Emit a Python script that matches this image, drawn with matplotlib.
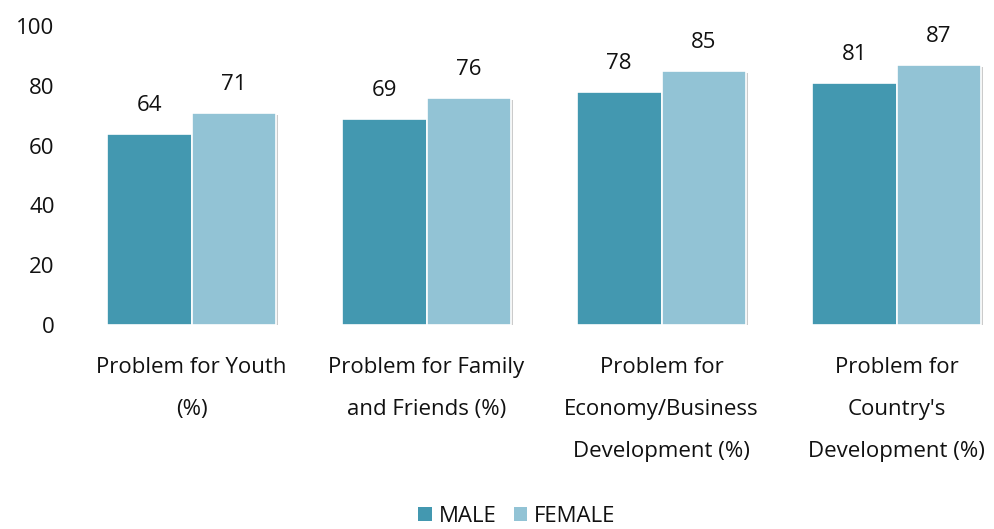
import matplotlib.pyplot as plt
import matplotlib.patheffects as pe
from matplotlib.patches import Patch
import numpy as np

plt.rcParams['font.family'] = ['Open Sans', 'DejaVu Sans']

categories = ["Problem for Youth\n(%)",
              "Problem for Family\nand Friends (%)",
              "Problem for\nEconomy/Business\nDevelopment (%)",
              "Problem for\nCountry's\nDevelopment (%)"]
male = [64, 69, 78, 81]
female = [71, 76, 85, 87]

male_color = '#4398b0'
female_color = '#92c3d5'

fig = plt.figure(figsize=(9.94, 5.29), dpi=100)
ax = fig.add_axes([74 / 994, 1 - 325 / 529, 920 / 994, 299 / 529])

x = np.arange(len(categories))
w = 0.36
shadow = [pe.SimplePatchShadow(offset=(1.5, -1.5), shadow_rgbFace='#999999', alpha=0.5), pe.Normal()]

b1 = ax.bar(x - w / 2, male, w, color=male_color, edgecolor='white', linewidth=1.2,
            path_effects=shadow)
b2 = ax.bar(x + w / 2, female, w, color=female_color, edgecolor='white', linewidth=1.2,
            path_effects=shadow)

for bars in (b1, b2):
    for bar in bars:
        h = bar.get_height()
        ax.annotate(f'{h:.0f}', (bar.get_x() + bar.get_width() / 2, h),
                    xytext=(0, 13), textcoords='offset points',
                    ha='center', va='bottom', fontsize=16, color='#111111')

ax.set_ylim(0, 100)
ax.set_xlim(-0.5, -0.5 + 920 / 235)
ax.set_yticks([0, 20, 40, 60, 80, 100])
ax.tick_params(axis='y', length=0, pad=14, labelsize=16, labelcolor='#111111')
ax.set_xticks(x)
ax.set_xticklabels(categories, fontsize=16, color='#111111', linespacing=2.3)
ax.tick_params(axis='x', length=0, pad=23)
for s in ax.spines.values():
    s.set_visible(False)

handles = [Patch(facecolor=male_color, label='MALE'), Patch(facecolor=female_color, label='FEMALE')]
fig.legend(handles=handles, loc='center', bbox_to_anchor=(0.52, 1 - 516 / 529), ncol=2,
           frameon=False, fontsize=16, handlelength=0.6, handleheight=0.6,
           handletextpad=0.3, columnspacing=0.8, labelcolor='#111111')

plt.savefig('out.png', dpi=100)
